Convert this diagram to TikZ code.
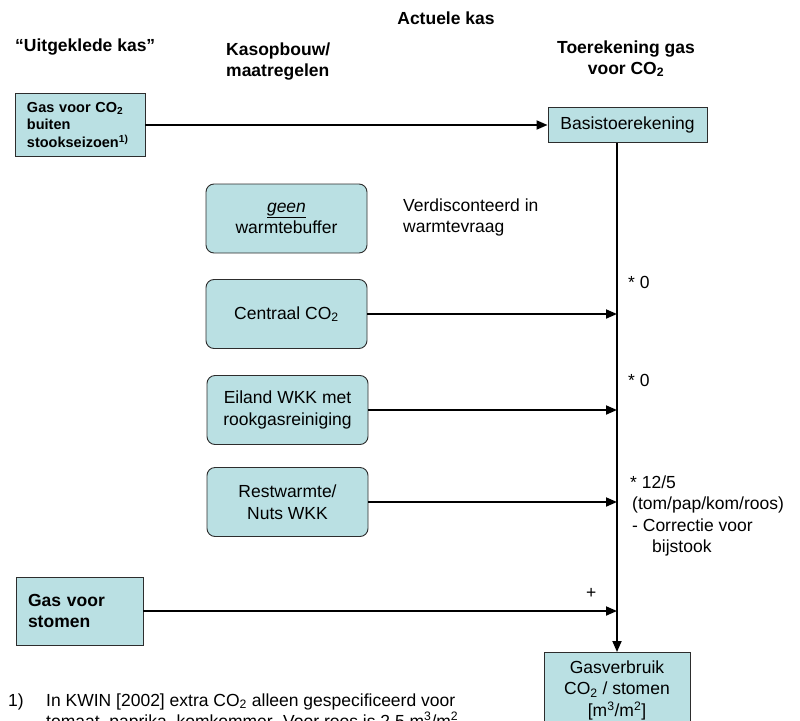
\documentclass[tikz,border=0pt]{standalone}
\usepackage{fontspec}
\setmainfont{Liberation Sans}
\usetikzlibrary{arrows.meta,calc}
\definecolor{boxfill}{RGB}{186,224,227}
\definecolor{boxline}{RGB}{45,45,45}

\begin{document}
\begin{tikzpicture}[x=1pt,y=-1pt,
  every node/.style={font=\fontsize{17.5}{21.5}\selectfont, inner sep=0pt},
  hdr/.style={font=\fontsize{17.5}{21.5}\selectfont\bfseries},
  sqbox/.style={draw=boxline, fill=boxfill, line width=0.9pt, align=center},
  rbox/.style={sqbox, rounded corners=8pt, minimum width=161pt, minimum height=69pt},
  feed/.style={line width=1.8pt, -{Triangle[length=11pt,width=9pt]}},
  lbl/.style={anchor=base west},
]
\useasboundingbox (0,0) rectangle (800,720);

% column headings
\node[hdr, anchor=base] (hact) at (446,24) {Actuele kas};
\node[hdr, anchor=base west] (huit) at (15,51) {“Uitgeklede kas”};
\node[hdr, anchor=base west] (hkas1) at (226,55) {Kasopbouw/};
\node[hdr, anchor=base west] (hkas2) at (226,76) {maatregelen};
\node[hdr, anchor=base] (htoe1) at (626,53) {Toerekening gas};
\node[hdr, anchor=base] (htoe2) at (626,74) {voor CO\textsubscript{2}};

% source boxes
\node[sqbox, align=left, text width=106pt, inner xsep=12pt, minimum height=63pt,
      font=\fontsize{14.5}{17.5}\selectfont\bfseries] (gasco) at (80,125)
  {Gas voor CO\textsubscript{2}\\buiten\\stookseizoen\textsuperscript{1)}};
\node[sqbox, minimum width=159pt, minimum height=35pt] (basis) at (627.5,125) {Basistoerekening};

\node[rbox] (buffer) at (286.5,218.5) {\underline{\textit{geen}}\\warmtebuffer};
\node[rbox] (central) at (286.5,314) {Centraal CO\textsubscript{2}};
\node[rbox] (eiland) at (287.5,410) {Eiland WKK met\\rookgasreiniging};
\node[rbox] (rest) at (287.5,502) {Restwarmte/\\Nuts WKK};

\node[sqbox, align=left, text width=103pt, inner xsep=12pt, minimum height=68pt,
      font=\fontsize{17.5}{21}\selectfont\bfseries] (stoom) at (79.5,611)
  {Gas voor\\stomen};

\node[sqbox, minimum width=146pt, minimum height=76pt, anchor=north] (verbruik) at (617,652)
  {Gasverbruik\\CO\textsubscript{2} / stomen\\{}[m\textsuperscript{3}/m\textsuperscript{2}]};

% connectors
\draw[feed] (gasco.east) -- (basis.west);
\draw[feed] (basis.south -| verbruik.north) -- (verbruik.north);
\draw[feed] (central.east) -- (central.east -| verbruik.north);
\draw[feed] (eiland.east) -- (eiland.east -| verbruik.north);
\draw[feed] (rest.east) -- (rest.east -| verbruik.north);
\draw[feed] (stoom.east) -- (stoom.east -| verbruik.north);

% side labels
\node[lbl] (vd1) at (403,211) {Verdisconteerd in};
\node[lbl] (vd2) at (403,232) {warmtevraag};
\node[lbl] (f1) at (628,288) {* 0};
\node[lbl] (f2) at (628,386) {* 0};
\node[lbl] (f3a) at (630,488) {* 12/5};
\node[lbl] (f3b) at (632,509) {(tom/pap/kom/roos)};
\node[lbl] (f3c) at (632,531) {- Correctie voor};
\node[lbl] (f3d) at (652,552) {bijstook};
\node[lbl] (plus) at (586,598) {+};

% footnote
\node[lbl] (fn0) at (8,706) {1)};
\node[lbl] (fn1) at (46,706) {In KWIN [2002] extra CO\textsubscript{2} alleen gespecificeerd voor};
\node[lbl] (fn2) at (46,727) {tomaat, paprika, komkommer. Voor roos is 2,5 m\textsuperscript{3}/m\textsuperscript{2}};
\end{tikzpicture}
\end{document}
